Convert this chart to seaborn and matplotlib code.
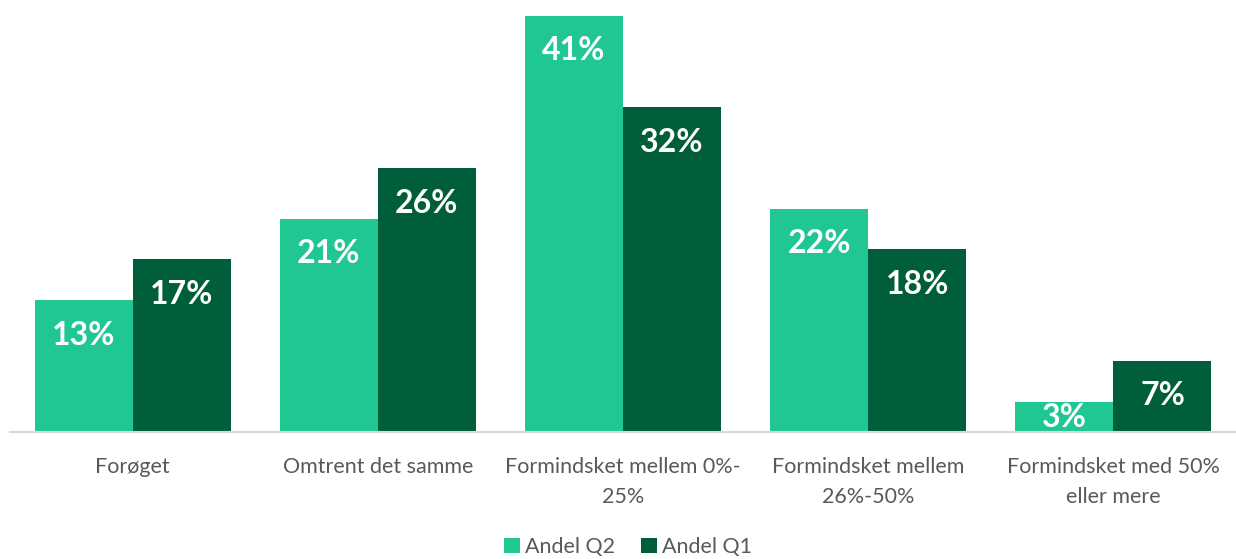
import matplotlib
matplotlib.use("Agg")
import matplotlib.pyplot as plt
import seaborn as sns
import pandas as pd

categories = ["Forøget", "Omtrent det samme", "Formindsket mellem 0%-\n25%",
              "Formindsket mellem\n26%-50%", "Formindsket med 50%\neller mere"]
series_names = ["Andel Q2", "Andel Q1"]
q2_values = [13, 21, 41, 22, 3]
q1_values = [17, 26, 32, 18, 7]

df = pd.DataFrame({
    "cat": categories * 2,
    "series": [series_names[0]] * 5 + [series_names[1]] * 5,
    "val": q2_values + q1_values,
})

sns.set_theme(style="white")
plt.rcParams["font.family"] = ["Lato", "DejaVu Sans"]

W, H = 1236, 559
fig = plt.figure(figsize=(W / 100, H / 100), dpi=100)
ax = fig.add_axes([10 / W, 1 - 432 / H, 1226 / W, 432 / H])

colors = ["#21C793", "#005E3A"]
sns.barplot(data=df, x="cat", y="val", hue="series", palette=colors,
            width=0.8, saturation=1, ax=ax, legend=True, linewidth=0)
ax.set_ylim(0, 432 / 10.15)
ax.set_xlim(-0.5, 4.5)

for container in ax.containers:
    for patch in container:
        h = patch.get_height()
        ax.text(patch.get_x() + patch.get_width() / 2, max(h - 3.45, 1.45), f"{h:.0f}%",
                ha="center", va="center", color="white", fontsize=23,
                fontweight="bold")

ax.set_xlabel("")
ax.set_ylabel("")
ax.set_yticks([])
for s in ["top", "right", "left"]:
    ax.spines[s].set_visible(False)
ax.spines["bottom"].set_color("#D9D9D9")
ax.spines["bottom"].set_linewidth(1.5)
ax.tick_params(axis="x", length=0, pad=18, labelsize=15.5, labelcolor="#595959")
for lab in ax.get_xticklabels():
    lab.set_linespacing(1.65)

leg = ax.legend(loc="center", bbox_to_anchor=(628 / W, 1 - 547 / H),
                bbox_transform=fig.transFigure, ncol=2, frameon=False,
                fontsize=15.5, handlelength=0.75, handleheight=0.75,
                handletextpad=0.25, columnspacing=1.2, borderaxespad=0)
for t in leg.get_texts():
    t.set_color("#595959")

fig.savefig("out.png", dpi=100)
